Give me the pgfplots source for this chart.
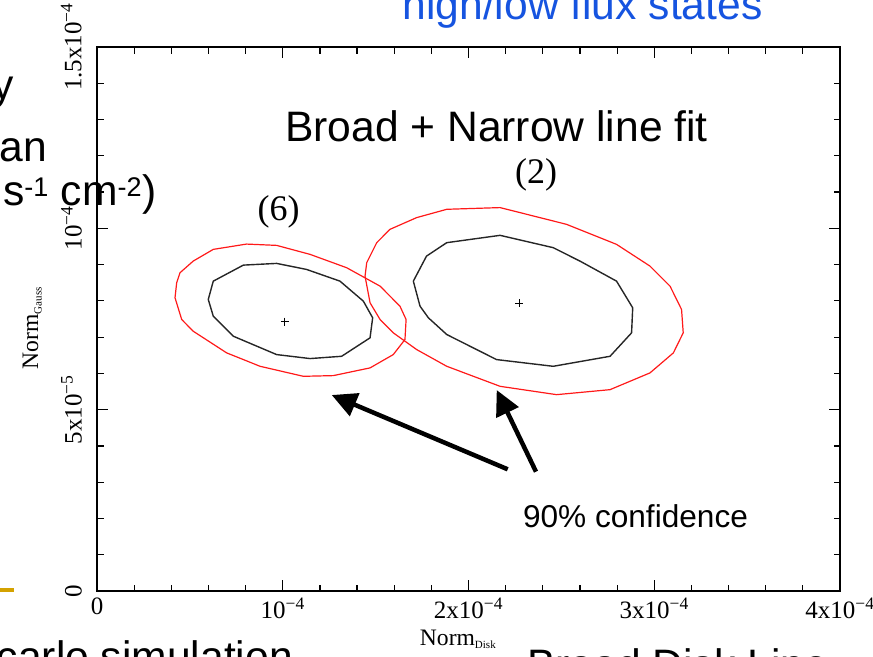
\documentclass[border=0pt]{standalone}
\usepackage{fontspec}
\setmainfont{Liberation Sans}
\newfontfamily\serifT{Liberation Serif}
\usepackage{pgfplots}
\pgfplotsset{compat=1.18}
\usetikzlibrary{arrows.meta}
\definecolor{slideblue}{RGB}{22,84,224}
\definecolor{bulletgold}{RGB}{212,162,0}
\definecolor{contred}{RGB}{255,25,25}

\begin{document}
\begin{tikzpicture}
\path[use as bounding box] (0,0) rectangle (873bp,-657bp);
\clip (0,0) rectangle (873bp,-657bp);

% slide text around the figure
\node[anchor=base, inner sep=0, text=slideblue, font=\fontsize{42.6bp}{50bp}\selectfont] at (582.5bp,-19bp) {high/low flux states};
\node[anchor=base east, inner sep=0, font=\fontsize{42.6bp}{50bp}\selectfont] at (14bp,-99bp) {y};
\node[anchor=base east, inner sep=0, font=\fontsize{42.6bp}{50bp}\selectfont] at (47bp,-161bp) {an};
\node[anchor=base west, inner sep=0, font=\fontsize{42.6bp}{50bp}\selectfont] at (3bp,-205bp) {s\textsuperscript{\fontsize{27bp}{30bp}\selectfont -1} cm\textsuperscript{\fontsize{27bp}{30bp}\selectfont -2})};
\node[anchor=base east, inner sep=0, font=\fontsize{42.6bp}{50bp}\selectfont] at (293bp,-671bp) {carlo simulation};
\node[anchor=base west, inner sep=0, font=\fontsize{42.6bp}{50bp}\selectfont] at (527bp,-679bp) {Broad Disk Line};
\fill[bulletgold] (0bp,-588bp) rectangle (14bp,-592bp);

\begin{axis}[
  at={(97bp,-591bp)}, anchor=south west,
  scale only axis, width=743bp, height=544bp,
  xmin=0, xmax=4, ymin=0, ymax=15,
  axis line style={line width=1.4bp},
  xtick={0,1,2,3,4}, ytick={0,5,10,15},
  xticklabels={0, 10\textsuperscript{−4}, 2x10\textsuperscript{−4}, 3x10\textsuperscript{−4}, 4x10\textsuperscript{−4}},
  yticklabels={0, 5x10\textsuperscript{−5}, 10\textsuperscript{−4}, 1.5x10\textsuperscript{−4}},
  minor x tick num=4, minor y tick num=4,
  major tick length=11bp, minor tick length=6.5bp,
  every tick/.style={black, line width=1.2bp},
  tick label style={font=\serifT\fontsize{25bp}{27bp}\selectfont},
  xticklabel style={anchor=north, inner sep=0pt, yshift=-7bp},
  yticklabel style={xshift=-15bp, rotate=90, anchor=south, inner sep=0pt},
  xlabel={Norm\textsubscript{\fontsize{11bp}{12bp}\selectfont Disk}},
  ylabel={Norm\textsubscript{\fontsize{11bp}{12bp}\selectfont Gauss}},
  label style={font=\serifT\fontsize{23.6bp}{26bp}\selectfont, inner sep=0pt},
  xlabel style={at={(axis description cs:0.486,-0.0993)}, anchor=base},
  ylabel style={at={(axis description cs:-0.0794,0.4835)}, rotate=0, anchor=base},
  clip=false,
]
% (6): 90% confidence contour
\addplot[contred, line width=1.2bp, line join=round] coordinates {
(0.429,8.500) (0.420,8.086) (0.456,7.486) (0.518,7.163) (0.698,6.566) (0.878,6.196)
(1.111,5.920) (1.272,5.939) (1.470,6.152) (1.595,6.519) (1.658,6.934) (1.664,7.486)
(1.631,7.854) (1.524,8.406) (1.344,8.914) (1.147,9.282) (0.967,9.530) (0.805,9.566)
(0.626,9.420) (0.518,9.097) (0.447,8.776) (0.429,8.500)};
% (6): inner contour
\addplot[black!85, line width=1.4bp, line join=round] coordinates {
(0.626,8.544) (0.599,8.039) (0.626,7.577) (0.734,7.025) (0.967,6.519) (1.147,6.409)
(1.317,6.472) (1.470,6.981) (1.484,7.533) (1.434,7.992) (1.308,8.544) (1.128,8.867)
(0.967,9.033) (0.788,8.986) (0.626,8.544)};
% (2): 90% confidence contour
\addplot[contred, line width=1.2bp, line join=round] coordinates {
(1.452,9.052) (1.443,8.682) (1.470,7.948) (1.524,7.486) (1.595,7.119) (1.721,6.657)
(1.883,6.196) (2.170,5.644) (2.474,5.414) (2.762,5.552) (2.977,6.014) (3.103,6.566)
(3.156,7.119) (3.147,7.762) (3.085,8.406) (2.977,8.959) (2.797,9.558) (2.528,10.110)
(2.170,10.572) (1.883,10.525) (1.721,10.296) (1.577,9.972) (1.506,9.605) (1.452,9.052)};
% (2): inner contour
\addplot[black!85, line width=1.4bp, line join=round] coordinates {
(1.703,8.544) (1.739,7.854) (1.784,7.533) (1.883,7.072) (2.151,6.381) (2.456,6.196)
(2.762,6.472) (2.878,7.119) (2.884,7.809) (2.797,8.544) (2.600,9.097) (2.456,9.467)
(2.170,9.807) (1.883,9.605) (1.774,9.235) (1.703,8.544)};
% best-fit values
\addplot[only marks, mark=+, mark size=4bp, black, mark options={line width=1bp}] coordinates {
(1.012,7.431) (2.272,7.928)};
\end{axis}

% annotations
\node[anchor=base, inner sep=0, font=\fontsize{42.6bp}{50bp}\selectfont] at (496.5bp,-141bp) {Broad + Narrow line fit};
\node[inner sep=0, font=\serifT\fontsize{36bp}{40bp}\selectfont] at (536bp,-175bp) {(2)};
\node[inner sep=0, font=\serifT\fontsize{36bp}{40bp}\selectfont] at (278.5bp,-212bp) {(6)};
\draw[line width=4.5bp, -{Triangle[length=25bp,width=24bp]}] (507.7bp,-469.3bp) -- (331.7bp,-395bp);
\draw[line width=4.5bp, -{Triangle[length=25bp,width=24bp]}] (536bp,-471.7bp) -- (496.7bp,-390bp);
\node[anchor=base, inner sep=0, font=\fontsize{31.6bp}{36bp}\selectfont] at (635.5bp,-527bp) {90\% confidence};
\end{tikzpicture}
\end{document}
